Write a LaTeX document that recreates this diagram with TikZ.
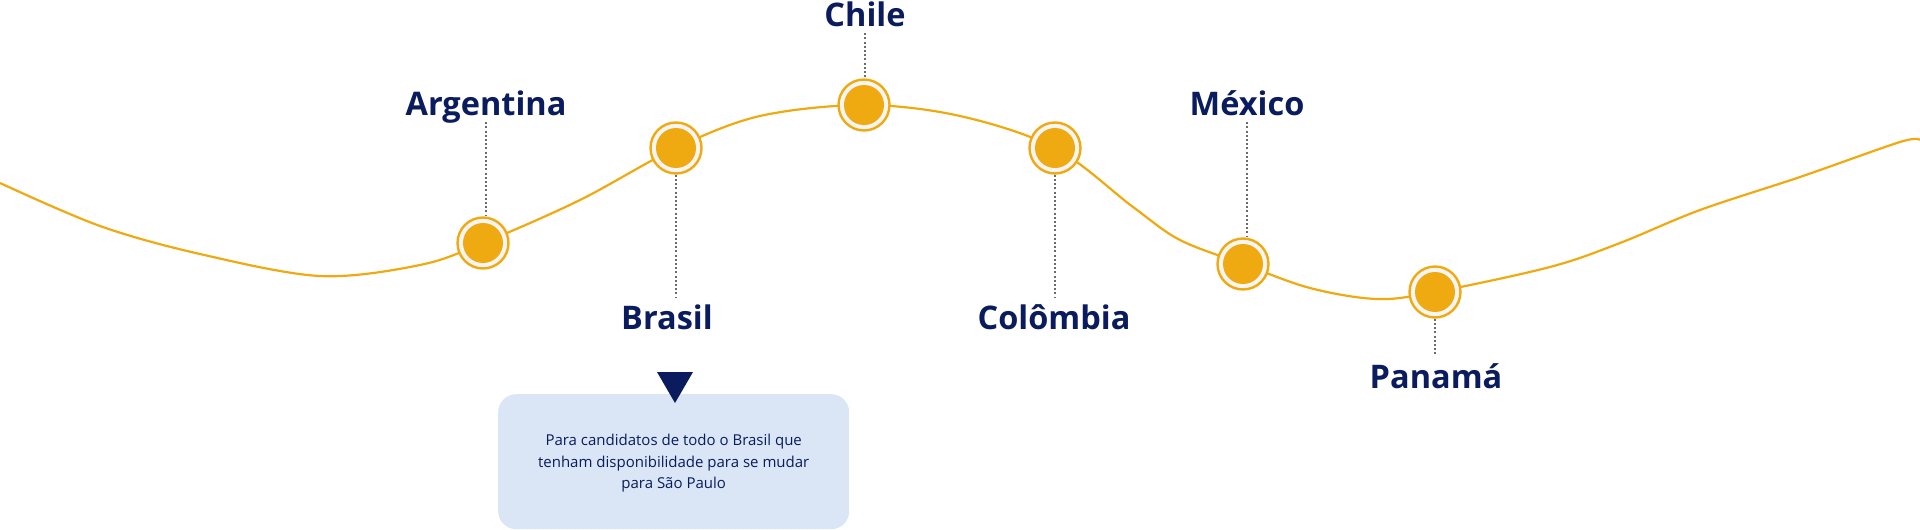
\documentclass[tikz,border=0pt]{standalone}
\usepackage{fontspec}
\setmainfont{Open Sans}
\definecolor{laranja}{HTML}{EFAA12}
\definecolor{anel}{HTML}{F6F5F4}
\definecolor{marinho}{HTML}{0B1C5E}
\definecolor{caixa}{HTML}{DAE5F5}
\definecolor{guiacor}{HTML}{6B6B6B}
\tikzset{
    ponto/.style={circle,draw=laranja,line width=2.4pt,fill=anel,minimum size=51pt,inner sep=0pt,
        path picture={\fill[laranja] (path picture bounding box.center) circle (20pt);}},
    pais/.style={text=marinho,font=\fontsize{32.5}{32.5}\selectfont\bfseries,anchor=base,text depth=0pt,inner ysep=7pt},
    guia/.style={guiacor,line width=1.8pt,dash pattern=on 2pt off 2.2pt},
}

\begin{document}
\begin{tikzpicture}[x=1pt,y=-1pt]
            \useasboundingbox (0,0) rectangle (1920,530);
            % curva
            \draw[laranja,line width=2.2pt] plot[smooth,tension=0.55] coordinates {
                (0,183) (100,226) (200,254) (320,276) (420,265) (483,243) (580,200) (676,148)
                (760,116) (864,105) (960,116) (1055,148) (1133,207) (1180,240) (1243,264)
                (1310,288) (1377,299) (1435,292) (1550,267) (1620,243) (1700,210) (1800,177) (1900,142) (1920,140)};
            % pontos
            \node[ponto] (argp) at (483,243) {};
            \node[ponto] (brap) at (676,148) {};
            \node[ponto] (chip) at (864,105) {};
            \node[ponto] (colp) at (1055,148) {};
            \node[ponto] (mexp) at (1243,264) {};
            \node[ponto] (panp) at (1435,292) {};
            % nomes
            \node[pais] (arg) at (486,115) {Argentina};
            \node[pais] (chi) at (865,26) {Chile};
            \node[pais] (mex) at (1247,115) {México};
            \node[pais] (bra) at (667,329) {Brasil};
            \node[pais] (col) at (1054,329) {Colômbia};
            \node[pais] (pan) at (1436,388) {Panamá};
            \draw[guia] (arg.south) -- (arg.south |- argp.north);
            \draw[guia] (chi.south) -- (chi.south |- chip.north);
            \draw[guia] (mex.south) -- (mex.south |- mexp.north);
            \draw[guia] (brap.south) -- (brap.south |- bra.north);
            \draw[guia] (colp.south) -- (colp.south |- col.north);
            \draw[guia] (panp.south) -- (panp.south |- pan.north);
            % caixa
            \node[fill=caixa,rounded corners=18pt,minimum width=351pt,minimum height=135pt,anchor=north west,
                text=marinho,align=center,font=\fontsize{15}{21.5}\selectfont,text depth=0pt] (nota) at (498,394)
                {Para candidatos de todo o Brasil que\\tenham disponibilidade para se mudar\\para São Paulo};
            \coordinate (seta) at (675,403);
            \fill[marinho] (seta) -- ++(-18,-31) -- ++(36,0) -- cycle;
        \end{tikzpicture}
\end{document}
